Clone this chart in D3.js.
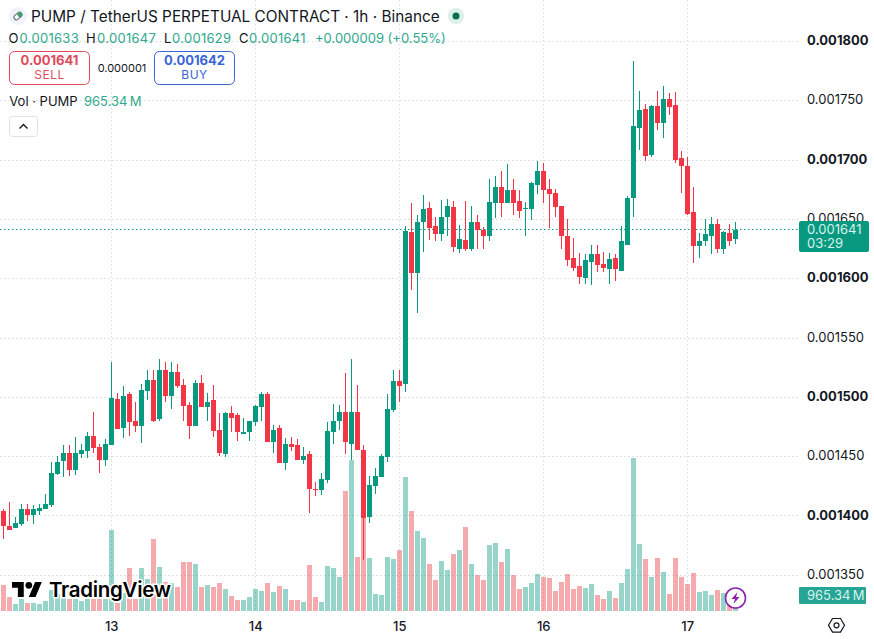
<!DOCTYPE html>
<html>
<head>
<meta charset="utf-8">
<script src="https://cdn.jsdelivr.net/npm/d3@7"></script>
<style>
html,body{margin:0;padding:0;background:#fff}
svg{display:block;font-family:Inter,"Noto Sans",sans-serif}
text{fill:#131722}
</style>
</head>
<body>
<svg id="chart" width="874" height="639"></svg>
<script>
// Hourly PUMP/USDT perpetual candles; prices are in ticks of 0.000001, volume in millions.
const TICK = 0.000001;
const open = [
1404,1391,1389,1393,1405,1400,1404,1405,1409,1435,
1446,1453,1438,1452,1454,1467,1458,1447,1459,1498,
1474,1502,1480,1475,1505,1514,1481,1523,1501,1521,
1510,1493,1475,1512,1491,1497,1472,1452,1486,1485,
1469,1470,1479,1491,1502,1462,1474,1444,1460,1459,
1447,1452,1422,1421,1430,1470,1480,1487,1460,1487,
1455,1399,1425,1432,1449,1489,1513,1511,1639,1604,
1647,1659,1644,1637,1652,1660,1625,1632,1625,1647,
1641,1636,1663,1677,1663,1674,1665,1658,1658,1679,
1690,1675,1672,1661,1636,1617,1610,1600,1614,1620,
1612,1608,1617,1606,1628,1668,1727,1743,1704,1745,
1731,1751,1746,1701,1695,1656,1627,1631,1636,1646,
1625,1638,1633];
const high = [
1405,1411,1399,1410,1410,1409,1410,1418,1445,1450,
1459,1459,1466,1460,1470,1487,1460,1464,1529,1503,
1509,1504,1496,1511,1523,1523,1532,1529,1529,1528,
1515,1496,1514,1518,1503,1510,1486,1487,1492,1486,
1482,1480,1493,1504,1504,1476,1476,1465,1466,1464,
1458,1454,1428,1436,1479,1494,1493,1520,1532,1510,
1459,1433,1440,1452,1502,1523,1523,1644,1663,1653,
1670,1664,1652,1666,1667,1665,1645,1665,1661,1653,
1643,1684,1686,1690,1696,1684,1674,1664,1681,1699,
1697,1684,1675,1661,1650,1634,1621,1620,1628,1628,
1622,1621,1620,1644,1669,1783,1758,1747,1746,1758,
1762,1756,1757,1707,1702,1677,1638,1650,1652,1650,
1640,1646,1647];
const low = [
1380,1388,1389,1391,1395,1393,1400,1405,1407,1434,
1432,1433,1434,1448,1448,1453,1436,1442,1459,1473,
1465,1467,1470,1461,1497,1479,1480,1496,1490,1507,
1480,1464,1475,1491,1480,1466,1450,1449,1470,1463,
1469,1463,1475,1480,1462,1453,1444,1438,1454,1447,
1443,1402,1416,1417,1427,1460,1472,1452,1447,1455,
1362,1394,1418,1432,1445,1487,1496,1504,1590,1571,
1622,1632,1631,1631,1636,1622,1621,1623,1623,1625,
1625,1631,1651,1652,1663,1653,1651,1636,1649,1671,
1663,1642,1652,1625,1610,1606,1595,1595,1594,1605,
1605,1595,1598,1606,1628,1652,1708,1699,1702,1725,
1718,1738,1697,1672,1653,1613,1617,1627,1620,1621,
1620,1627,1629];
const close = [
1391,1388,1394,1405,1400,1405,1406,1410,1436,1445,
1453,1438,1453,1455,1467,1457,1447,1460,1499,1473,
1501,1479,1475,1506,1514,1480,1523,1501,1521,1509,
1492,1475,1512,1491,1496,1471,1453,1486,1482,1470,
1470,1480,1492,1502,1462,1472,1444,1460,1458,1447,
1450,1422,1421,1431,1471,1480,1487,1462,1487,1455,
1398,1426,1433,1450,1490,1513,1509,1640,1604,1647,
1658,1642,1637,1652,1661,1626,1633,1625,1647,1641,
1636,1664,1677,1663,1674,1663,1657,1659,1680,1690,
1674,1671,1660,1636,1615,1609,1601,1615,1620,1611,
1609,1616,1608,1631,1668,1728,1742,1703,1745,1731,
1751,1744,1700,1695,1654,1627,1631,1637,1646,1625,
1639,1631,1641];
const volume = [
1652,879,429,751,493,493,429,622,1373,1072,
1072,751,751,622,751,751,751,751,5191,493,
1180,2746,751,2746,2038,4612,2810,1845,1780,1523,
3132,3132,3003,1523,1652,1523,1780,1394,944,686,
686,879,1394,1266,1780,1201,1587,1394,708,708,
579,2960,901,579,2896,2767,2188,7722,9717,3475,
6113,3411,1094,1030,3475,3346,3925,8623,6435,5148,
4698,3024,1995,3218,2638,3668,3925,5405,3024,2317,
1995,4247,4376,3153,3990,2317,1416,1544,1802,2381,
2188,2124,1287,1866,2381,1416,1609,1480,1737,1030,
772,1287,837,1802,2703,9846,4311,3346,2188,3411,
2510,1094,3411,2188,1737,2445,1223,1287,1030,1351,
1158,644,965.34];

const priceTicks = [0.00135,0.0014,0.00145,0.0015,0.00155,0.0016,0.00165,0.0017,0.00175,0.0018];
const strongTicks = [0.0014,0.0015,0.0016,0.0017,0.0018];
const dayLabels = ["13","14","15","16","17"];
const dayStarts = [18,42,66,90,114];

const GREEN = "#089981", RED = "#F23645", VOL_RED = "#e8363c";
const candles = open.map((o,i)=>({i,o:o*TICK,h:high[i]*TICK,l:low[i]*TICK,c:close[i]*TICK,v:volume[i]}));

const x = d3.scaleLinear().domain([0,122]).range([3.5,735.5]);
const y = d3.scaleLinear().domain([0.00135,0.0018]).range([574.7,41]);
const yv = d3.scaleLinear().domain([0,10000]).range([611,455.6]);
const px = v => Math.round(y(v));

const svg = d3.select("#chart");

// Dotted grid
const grid = svg.append("g").attr("stroke","#d9dade").attr("stroke-dasharray","1.5 2.5").attr("fill","none");
grid.selectAll("line.h").data(priceTicks).join("line").attr("class","h")
  .attr("x1",0).attr("x2",799).attr("y1",d=>px(d)+.5).attr("y2",d=>px(d)+.5);
grid.selectAll("line.v").data(dayStarts).join("line").attr("class","v")
  .attr("x1",d=>x(d)).attr("x2",d=>x(d)).attr("y1",0).attr("y2",611);

// Volume histogram
svg.append("g").selectAll("rect").data(candles).join("rect")
  .attr("x",d=>x(d.i)-2.5).attr("width",5)
  .attr("y",d=>Math.round(yv(d.v))).attr("height",d=>611-Math.round(yv(d.v)))
  .attr("fill",d=>d.c>=d.o?GREEN:VOL_RED).attr("fill-opacity",.42);

// Last-price line
const lastY = Math.floor(y(close[122]*TICK));
svg.append("line").attr("x1",0).attr("x2",799)
  .attr("y1",lastY+.5).attr("y2",lastY+.5)
  .attr("stroke",GREEN).attr("stroke-dasharray","1.5 2.5");

// Candles
const cg = svg.append("g").selectAll("g").data(candles).join("g")
  .attr("fill",d=>d.c>=d.o?GREEN:RED);
cg.append("rect").attr("x",d=>x(d.i)-.5).attr("width",1)
  .attr("y",d=>px(d.h)).attr("height",d=>px(d.l)-px(d.h));
cg.append("rect").attr("x",d=>x(d.i)-2.5).attr("width",5)
  .attr("y",d=>px(Math.max(d.o,d.c)))
  .attr("height",d=>Math.max(1,px(Math.min(d.o,d.c))-px(Math.max(d.o,d.c))));

// Price axis
const priceAxis = d3.axisRight(y).tickValues(priceTicks).tickSize(0).tickPadding(0)
  .tickFormat(d=>d.toFixed(6));
const ya = svg.append("g").attr("transform","translate(807,0)").call(priceAxis);
ya.select(".domain").remove();
ya.selectAll("text").attr("font-size",13).attr("font-family","Inter")
  .attr("font-weight",d=>strongTicks.some(t=>Math.abs(t-d)<1e-9)?700:400)
  .style("fill","#131722").attr("dy","0.28em");

// Day axis
const dayScale = d3.scalePoint().domain(dayLabels).range([x(18)-.3,x(114)-.3]);
const xa = svg.append("g").attr("transform","translate(0,626.5)")
  .call(d3.axisBottom(dayScale).tickSize(0).tickPadding(0));
xa.select(".domain").remove();
xa.selectAll("text").attr("font-size",13).attr("font-family","Inter").attr("font-weight",500)
  .style("fill","#131722").attr("dy","0.36em").attr("y",0);

// Header
const t = (s,xx,yy,size,col,w,anchor)=>svg.append("text").text(s).attr("x",xx).attr("y",yy)
  .attr("font-size",size).attr("font-weight",w||400).attr("text-anchor",anchor||"start").style("fill",col||"#131722");
t("PUMP / TetherUS PERPETUAL CONTRACT · 1h · Binance",31,22,15.35);
svg.append("circle").attr("cx",18).attr("cy",16).attr("r",9).attr("fill","#f0f3fa");
svg.append("rect").attr("x",13.5).attr("y",13.5).attr("width",9).attr("height",5).attr("rx",2.5)
  .attr("transform","rotate(-40 18 16)").attr("fill","#fff").attr("stroke","#5c6b6a").attr("stroke-width",1);
svg.append("rect").attr("x",18).attr("y",13.5).attr("width",4.5).attr("height",5).attr("rx",2)
  .attr("transform","rotate(-40 18 16)").attr("fill","#3fa06c");
svg.append("circle").attr("cx",456).attr("cy",16).attr("r",8).attr("fill","#dcf1ea");
svg.append("circle").attr("cx",456).attr("cy",16).attr("r",3.5).attr("fill","#0b6e55");

const ohlc = [["O",8.5,19.5,open],["H",86,97,high],["L",164,172,low],["C",239,249,close]];
const TXTG = "#2fa88f";
ohlc.forEach(([k,xx,vx,arr])=>{
  t(k,xx,43,13);
  t((arr[122]*TICK).toFixed(6),vx,43,13,TXTG).attr("letter-spacing",".3");
});
t("+0.000009 (+0.55%)",315,43,13,TXTG);

// Sell / buy boxes
const box=(xx,col,price,label)=>{
  svg.append("rect").attr("x",xx).attr("y",51.5).attr("width",80).attr("height",33).attr("rx",5)
    .attr("fill","#fff").attr("stroke",col);
  t(price,xx+40,65,13,col,700,"middle");
  t(label,xx+40,79,12,col,400,"middle").attr("letter-spacing",".5");
};
box(9.5,"#e04a5a","0.001641","SELL");
box(154.5,"#3a63d8","0.001642","BUY");
t("0.000001",122,72,11,"#131722",400,"middle");

t("Vol · PUMP",9.3,106,13);
t("965.34\u2009M",84,106,13,TXTG);

svg.append("rect").attr("x",9.5).attr("y",116.5).attr("width",28).attr("height",20).attr("rx",3)
  .attr("fill","#fff").attr("stroke","#e0e3eb");
svg.append("path").attr("d","M19.5 128.5l4-4 4 4").attr("fill","none").attr("stroke","#131722").attr("stroke-width",1.4);

// Price tags on the scale
svg.append("rect").attr("x",799).attr("y",lastY-8).attr("width",70).attr("height",31).attr("rx",2).attr("fill",GREEN);
t((close[122]*TICK).toFixed(6),807,lastY+5,13,"#d9f2ec");
t("03:29",807,lastY+19,13,"#d9f2ec");
svg.append("rect").attr("x",799).attr("y",587).attr("width",67).attr("height",17).attr("rx",1).attr("fill","#26a596");
t("965.34\u2009M",807,600,13,"#d9f2ec");

// Watermark
const wm = svg.append("g");
const logoG = wm.append("g").attr("transform","translate(12,578.6) scale(.84)");
logoG.append("path").attr("d","M14 22H7V11H0V4h14v18zM28 22h-8l7.5-18h8L28 22z").attr("fill","#000").attr("stroke","#fff").attr("stroke-width",2).attr("paint-order","stroke");
logoG.append("circle").attr("cx",20).attr("cy",8).attr("r",4).attr("fill","#000").attr("stroke","#fff").attr("stroke-width",2).attr("paint-order","stroke");
wm.append("text").text("TradingView").attr("x",49).attr("y",597).attr("font-size",20.5).attr("font-weight",600)
  .style("fill","#000").attr("stroke","#fff").attr("stroke-width",3).attr("paint-order","stroke").attr("letter-spacing","-.3");

// Lightning badge
svg.append("circle").attr("cx",735.5).attr("cy",598).attr("r",10).attr("fill","#fff").attr("stroke","#8e24aa").attr("stroke-width",1.6);
svg.append("path").attr("d","M737.5 592l-6 7h3.5l-1.5 5 6-7h-3.5z").attr("fill","#8e24aa");

// Scale settings icon
svg.append("path").attr("d","M832.5 618.5h8l4 6.8-4 6.8h-8l-4-6.8z").attr("fill","none").attr("stroke","#131722").attr("stroke-width",1.2);
svg.append("circle").attr("cx",836.5).attr("cy",625.3).attr("r",2.5).attr("fill","none").attr("stroke","#131722").attr("stroke-width",1.2);
</script>
</body>
</html>
